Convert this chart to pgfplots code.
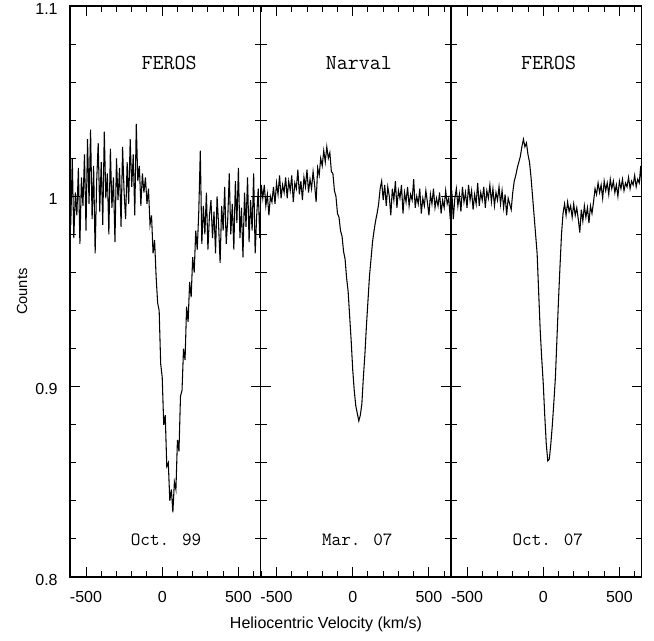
\documentclass[border=0pt]{standalone}
\usepackage{fontspec}
\setmainfont{Liberation Sans}
\usepackage{pgfplots}
\pgfplotsset{compat=1.18}

% three spectra of the same line, one per panel
\pgfplotstableread{
v y
-605 1.012
-600 0.985
-590 1.020
-580 0.978
-570 1.002
-560 0.990
-550 1.015
-540 0.975
-530 1.010
-520 0.995
-510 1.022
-500 0.982
-490 1.030
-480 0.996
-470 1.035
-460 0.988
-450 1.016
-440 0.970
-430 1.008
-420 1.028
-410 0.992
-400 1.018
-390 0.985
-380 1.034
-370 0.999
-360 1.012
-350 0.980
-340 1.025
-330 0.994
-320 1.010
-310 0.976
-300 1.020
-290 0.998
-280 1.015
-270 0.984
-260 1.026
-250 1.002
-240 0.988
-230 1.018
-220 0.996
-210 1.030
-200 1.005
-190 1.022
-180 0.990
-170 1.038
-160 1.008
-150 1.016
-140 0.995
-130 1.012
-120 1.002
-110 1.010
-100 0.996
-90 1.004
-80 0.985
-70 0.990
-60 0.970
-50 0.977
-40 0.958
-30 0.944
-20 0.940
-10 0.912
0 0.905
10 0.880
20 0.885
30 0.858
40 0.860
50 0.840
60 0.846
70 0.834
80 0.850
90 0.846
100 0.872
110 0.866
120 0.895
130 0.898
140 0.920
150 0.914
160 0.942
170 0.934
180 0.955
190 0.947
200 0.968
210 0.960
220 0.982
230 0.972
240 0.992
250 1.024
260 0.975
270 0.995
280 0.980
290 1.002
300 0.972
310 0.990
320 0.998
330 0.978
340 0.992
350 0.970
360 1.000
370 0.985
380 0.965
390 0.995
400 0.982
410 1.005
420 0.975
430 0.988
440 1.012
450 0.980
460 0.996
470 0.972
480 1.008
490 0.986
500 1.015
510 0.978
520 0.994
530 0.968
540 1.002
550 0.984
560 1.010
570 0.976
580 0.998
590 0.982
600 1.012
610 0.970
620 0.990
630 1.004
640 0.978
645 0.992
}\octnn

\pgfplotstableread{
v y
-605 0.996
-600 1.006
-590 0.999
-580 1.006
-570 0.995
-560 1.001
-550 0.990
-540 1.000
-530 0.997
-520 1.005
-510 0.996
-500 1.007
-490 1.001
-480 1.011
-470 0.999
-460 1.006
-450 1.002
-440 1.010
-430 0.999
-420 1.008
-410 1.003
-400 1.011
-390 0.997
-380 1.007
-370 1.004
-360 1.014
-350 1.001
-340 1.008
-330 0.998
-320 1.010
-310 1.005
-300 1.014
-290 1.002
-280 1.009
-270 1.004
-260 1.013
-250 1.006
-240 0.997
-230 1.015
-220 1.011
-210 1.020
-200 1.016
-190 1.024
-180 1.018
-170 1.026
-160 1.020
-150 1.023
-140 1.013
-130 1.012
-120 1.003
-110 1.000
-100 0.991
-90 0.989
-80 0.982
-70 0.979
-60 0.971
-50 0.967
-40 0.957
-30 0.950
-20 0.937
-10 0.924
0 0.909
10 0.898
20 0.890
30 0.886
40 0.882
50 0.885
60 0.891
70 0.905
80 0.917
90 0.932
100 0.945
110 0.958
120 0.967
130 0.976
140 0.982
150 0.987
160 0.991
170 0.996
180 1.004
190 1.008
200 0.998
210 1.006
220 0.995
230 1.005
240 1.000
250 0.990
260 1.004
270 0.998
280 1.008
290 0.994
300 1.003
310 0.999
320 1.006
330 0.991
340 1.002
350 0.997
360 1.005
370 0.995
380 1.001
390 0.998
400 1.009
410 0.994
420 1.000
430 0.996
440 1.004
450 0.991
460 0.999
470 0.995
480 1.003
490 0.997
500 0.990
510 1.001
520 0.996
530 1.004
540 0.994
550 0.999
560 0.995
570 1.002
580 0.991
590 0.998
600 0.994
610 1.003
620 0.996
630 0.999
640 0.988
645 0.998
}\marzs

\pgfplotstableread{
v y
-605 0.994
-600 1.003
-590 0.988
-580 0.999
-570 1.004
-560 0.995
-550 1.001
-540 0.992
-530 1.005
-520 0.997
-510 1.002
-500 0.994
-490 1.006
-480 0.998
-470 1.003
-460 0.993
-450 1.001
-440 0.996
-430 1.007
-420 0.995
-410 1.002
-400 0.998
-390 1.005
-380 0.994
-370 1.003
-360 0.999
-350 1.006
-340 0.997
-330 1.004
-320 0.995
-310 1.002
-300 0.998
-290 1.005
-280 0.996
-270 1.003
-260 0.994
-250 1.001
-240 0.990
-230 0.999
-220 0.996
-210 0.993
-200 1.002
-190 1.008
-180 1.011
-170 1.015
-160 1.018
-150 1.021
-140 1.026
-130 1.030
-120 1.026
-110 1.028
-100 1.022
-90 1.018
-80 1.010
-70 1.000
-60 0.990
-50 0.980
-40 0.970
-30 0.950
-20 0.930
-10 0.915
0 0.902
10 0.885
20 0.870
30 0.861
40 0.862
50 0.870
60 0.880
70 0.892
80 0.905
90 0.925
100 0.945
110 0.963
120 0.980
130 0.991
140 0.996
150 0.990
160 0.997
170 0.992
180 0.995
190 0.989
200 0.996
210 0.990
220 0.994
230 0.988
240 0.981
250 0.993
260 0.987
270 0.995
280 0.989
290 0.994
300 0.986
310 0.995
320 0.991
330 0.997
340 1.004
350 1.001
360 1.007
370 1.002
380 1.006
390 0.999
400 1.008
410 1.003
420 1.007
430 1.001
440 1.009
450 1.004
460 1.008
470 1.002
480 1.006
490 1.000
500 1.008
510 1.004
520 1.009
530 1.003
540 1.007
550 1.005
560 1.010
570 1.004
580 1.008
590 1.006
600 1.011
610 1.005
620 1.009
630 1.007
640 1.016
645 1.008
}\octzs

\pgfplotsset{
  panel/.style={
    scale only axis,
    width=142.875pt, height=428.25pt,
    xmin=-605, xmax=645, ymin=0.8, ymax=1.1,
    xtick={-500,0,500},
    minor xtick={-600,-400,-300,-200,-100,100,200,300,400,600},
    ytick={0.8,0.9,1,1.1},
    minor ytick={0.82,0.84,0.86,0.88,0.92,0.94,0.96,0.98,1.02,1.04,1.06,1.08},
    tick align=inside, xtick pos=both, ytick pos=both,
    major tick length=7.5pt, minor tick length=4.5pt,
    tick style={black, line width=0.7pt},
    axis line style={line width=0.9pt},
    tick label style={font=\fontsize{12}{12}\selectfont},
    /pgf/number format/assume math mode=true,
    xticklabel style={yshift=-7.3pt},
    yticklabel style={xshift=-5.75pt, yshift=-2pt},
  },
  spec/.style={black, line width=0.8pt, no marks},
}
\tikzset{
  toplab/.style={font=\ttfamily\fontsize{16}{16}\selectfont},
  botlab/.style={font=\ttfamily\fontsize{14}{14}\selectfont},
}

\begin{document}
\begin{tikzpicture}
\begin{axis}[panel, name=p1]
  \addplot[spec] table[x=v, y=y] {\octnn};
  \node[toplab] at (axis cs:45,1.0702) {FEROS};
  \node[botlab] at (axis cs:25,0.8196) {Oct. 99};
\end{axis}
\begin{axis}[panel, name=p2, at={(p1.south east)}, anchor=south west, yticklabels={}]
  \addplot[spec] table[x=v, y=y] {\marzs};
  \node[toplab] at (axis cs:40,1.0702) {Narval};
  \node[botlab] at (axis cs:30,0.8196) {Mar. 07};
\end{axis}
\begin{axis}[panel, name=p3, at={(p2.south east)}, anchor=south west, yticklabels={}]
  \addplot[spec] table[x=v, y=y] {\octzs};
  \node[toplab] at (axis cs:35,1.0702) {FEROS};
  \node[botlab] at (axis cs:30,0.8196) {Oct. 07};
\end{axis}
\node[anchor=base, font=\fontsize{12}{12}\selectfont] at (192pt,-38.25pt) {Heliocentric Velocity (km/s)};
\node[rotate=90, font=\fontsize{11}{11}\selectfont] at (-36pt,214pt) {Counts};
\pgfresetboundingbox
\path[use as bounding box] (-52.5pt,-47.25pt) rectangle (438pt,432.75pt);
\end{tikzpicture}
\end{document}
